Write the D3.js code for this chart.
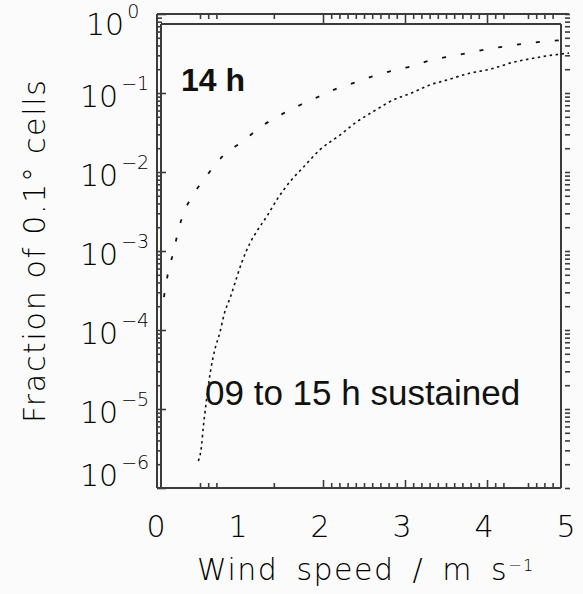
<!DOCTYPE html>
<html>
<head>
<meta charset="utf-8">
<script src="https://cdn.jsdelivr.net/npm/d3@7"></script>
<style>
  html, body { margin: 0; padding: 0; background: #fafbfa; }
  svg { display: block; }
  .tick-label { font-family: "DejaVu Sans", "Liberation Sans", sans-serif; font-weight: 200; fill: #000; }
  .note { font-family: "Liberation Sans", Arial, sans-serif; fill: #111; }
</style>
</head>
<body>
<div id="chart"></div>
<script>
// wind speed (m/s) and fraction of 0.1 degree cells
const speed14 = [0.06, 0.12, 0.17, 0.24, 0.30, 0.41, 0.58, 0.78, 1.01, 1.27, 1.50, 1.74, 1.96, 2.18, 2.43, 2.63, 2.84, 3.09, 3.30, 3.54, 3.77, 4.01, 4.23, 4.71, 5.0];
const frac14 = [2.6e-4, 5.9e-4, 9.1e-4, 1.9e-3, 3.0e-3, 5.0e-3, 8.9e-3, 0.016, 0.024, 0.039, 0.054, 0.072, 0.091, 0.115, 0.14, 0.166, 0.19, 0.22, 0.257, 0.29, 0.32, 0.36, 0.39, 0.45, 0.47];

const speedSustained = [0.48, 0.52, 0.54, 0.56, 0.63, 0.68, 0.74, 0.80, 0.87, 0.95, 1.01, 1.11, 1.20, 1.32, 1.44, 1.60, 1.76, 1.96, 2.21, 2.41, 2.61, 2.85, 3.10, 3.30, 3.51, 3.79, 4.04, 4.32, 4.52, 4.73, 5.0];
const fracSustained = [2.2e-6, 3.5e-6, 5.9e-6, 8.9e-6, 3.1e-5, 5.6e-5, 9.1e-5, 1.66e-4, 2.6e-4, 4.7e-4, 7.2e-4, 1.26e-3, 1.82e-3, 2.8e-3, 4.5e-3, 7.6e-3, 0.0115, 0.019, 0.0295, 0.043, 0.058, 0.081, 0.102, 0.126, 0.146, 0.178, 0.20, 0.245, 0.27, 0.295, 0.32];

// axis ticks
const xTickLabels = [0, 1, 2, 3, 4, 5];
const xMajorTicks = [2, 3, 4];
const xMinorTicks = [0.5, 0.6, 0.7, 1.4, 2.1, 2.2, 2.3, 2.4, 2.5, 2.6, 2.7, 2.8, 2.9, 3.1, 3.2, 3.3, 3.4, 3.5, 3.6, 3.7, 3.8, 3.9, 4.1, 4.2, 4.5, 4.6, 4.7, 4.8];
const yExponents = [0, -1, -2, -3, -4, -5, -6];

const width = 583, height = 594;

const svg = d3.select("#chart").append("svg")
  .attr("width", width)
  .attr("height", height);

const x = d3.scaleLinear().domain([0, 5]).range([159, 569]);
const y = d3.scaleLog().domain([1e-6, 1]).range([488, 14]);

const yMajor = yExponents.map((e) => Math.pow(10, e));
const yMinor = [];
yExponents.slice(1).forEach((e) => {
  for (let k = 2; k <= 9; k++) yMinor.push(k * Math.pow(10, e));
});

const axisColor = "#3c3c3c";
function cleanAxis(g) {
  g.select(".domain").remove();
  g.selectAll(".tick line").attr("stroke", axisColor).attr("stroke-width", 1.6);
  g.selectAll(".tick text").remove();
}

// left ticks (inward)
svg.append("g").attr("transform", "translate(157,0)")
  .call(d3.axisRight(y).tickValues(yMajor).tickSize(9).tickFormat(""))
  .call(cleanAxis);
svg.append("g").attr("transform", "translate(157,0)")
  .call(d3.axisRight(y).tickValues(yMinor).tickSize(5).tickFormat(""))
  .call(cleanAxis);
// right ticks
svg.append("g").attr("transform", "translate(565,0)")
  .call(d3.axisRight(y).tickValues(yMajor.concat(yMinor)).tickSize(5).tickFormat(""))
  .call(cleanAxis);
// top ticks
svg.append("g").attr("transform", "translate(0,14)")
  .call(d3.axisBottom(x).tickValues(xMajorTicks).tickSize(10).tickFormat(""))
  .call(cleanAxis);
svg.append("g").attr("transform", "translate(0,14)")
  .call(d3.axisBottom(x).tickValues(xMinorTicks).tickSize(5).tickFormat(""))
  .call(cleanAxis);
// bottom ticks
svg.append("g").attr("transform", "translate(0,488)")
  .call(d3.axisTop(x).tickValues(xMajorTicks).tickSize(8).tickFormat(""))
  .call(cleanAxis);
svg.append("g").attr("transform", "translate(0,488)")
  .call(d3.axisTop(x).tickValues(xMinorTicks).tickSize(5).tickFormat(""))
  .call(cleanAxis);

// frame (double lines top/left like the original plot)
const frame = [
  [157, 14, 569, 14],
  [161, 24, 561, 24],
  [157, 14, 157, 488],
  [161, 24, 161, 488],
  [561, 24, 561, 488],
  [157, 488, 561, 488],
];
svg.append("g").selectAll("line").data(frame).join("line")
  .attr("x1", (d) => d[0]).attr("y1", (d) => d[1])
  .attr("x2", (d) => d[2]).attr("y2", (d) => d[3])
  .attr("stroke", axisColor)
  .attr("stroke-width", 2);

// curves
const line = d3.line()
  .x((d) => x(d[0]))
  .y((d) => y(d[1]))
  .curve(d3.curveMonotoneX);

svg.append("path")
  .datum(d3.zip(speed14, frac14))
  .attr("d", line)
  .attr("fill", "none")
  .attr("stroke", "#111")
  .attr("stroke-width", 1.8)
  .attr("stroke-dasharray", "4,15");

svg.append("path")
  .datum(d3.zip(speedSustained, fracSustained))
  .attr("d", line)
  .attr("fill", "none")
  .attr("stroke", "#111")
  .attr("stroke-width", 1.6)
  .attr("stroke-dasharray", "2.5,3.5");

// y tick labels 10^n
const yLab = svg.append("g").selectAll("text").data(yExponents).join("text")
  .attr("class", "tick-label")
  .attr("x", (e) => (e < 0 ? 80 : 86))
  .attr("y", (e) => Math.max(24, Math.min(475, y(Math.pow(10, e)) + 3)) + 11)
  .attr("font-size", 30);
yLab.append("tspan").text("10");
yLab.append("tspan")
  .attr("dx", 3)
  .attr("dy", -17)
  .attr("font-size", 19)
  .text((e) => (e < 0 ? "\u2212" + Math.abs(e) : String(e)));

// x tick labels
svg.append("g").selectAll("text").data(xTickLabels).join("text")
  .attr("class", "tick-label")
  .attr("x", (d) => x(d) - 3)
  .attr("y", 537)
  .attr("text-anchor", "middle")
  .attr("font-size", 30)
  .text((d) => d);

// axis titles
const xTitle = svg.append("text")
  .attr("class", "tick-label")
  .attr("x", 197)
  .attr("y", 580)
  .attr("font-size", 30)
  .attr("letter-spacing", 1.5)
  .attr("word-spacing", 7);
xTitle.append("tspan").text("Wind speed / m s");
xTitle.append("tspan").attr("dy", -9).attr("font-size", 16).text("\u22121");

svg.append("text")
  .attr("class", "tick-label")
  .attr("transform", "translate(45,423) rotate(-90)")
  .attr("font-size", 30)
  .attr("textLength", 343)
  .attr("lengthAdjust", "spacing")
  .text("Fraction of 0.1\u00b0 cells");

// in-plot notes
svg.append("text")
  .attr("class", "note")
  .attr("x", 181)
  .attr("y", 91)
  .attr("font-size", 32)
  .attr("font-weight", "bold")
  .text("14 h");

svg.append("text")
  .attr("class", "note")
  .attr("x", 205)
  .attr("y", 405)
  .attr("font-size", 35)
  .text("09 to 15 h sustained");
</script>
</body>
</html>
